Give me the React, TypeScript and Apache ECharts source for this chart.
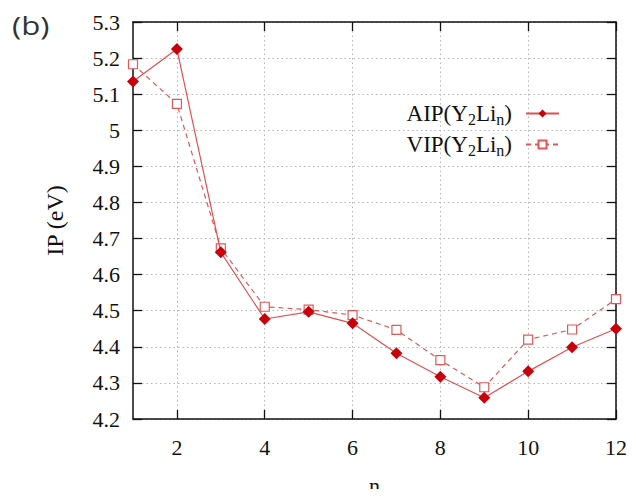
import React, { useEffect, useRef } from "react";
import * as echarts from "echarts";

const nValues = [1, 2, 3, 4, 5, 6, 7, 8, 9, 10, 11, 12];
const aipValues = [5.135, 5.225, 4.662, 4.477, 4.497, 4.465, 4.382, 4.317, 4.259, 4.332, 4.399, 4.45];
const vipValues = [5.183, 5.073, 4.673, 4.511, 4.503, 4.488, 4.447, 4.363, 4.288, 4.42, 4.448, 4.532];
const xTickValues = [2, 4, 6, 8, 10, 12];
const seriesNames = ["AIP", "VIP"];

const SERIF = "'Liberation Serif', 'DejaVu Serif', serif";

export default function App() {
  const ref = useRef<HTMLDivElement>(null);
  useEffect(() => {
    if (!ref.current) return;
    const chart = echarts.init(ref.current, null, { renderer: "svg" });
    const axisLine = { show: true, lineStyle: { color: "#111", width: 1.5 } };
    const tickStyle = { show: true, inside: true, length: 9, lineStyle: { color: "#111", width: 1.3 } };
    const gridLine = { show: true, lineStyle: { color: "#b5b5b5", width: 1, type: [1.5, 3] as any } };
    const yFmt = (v: number) => String(parseFloat(v.toFixed(1)));
    const rich = {
      t: { fontFamily: SERIF, fontSize: 23, color: "#111" },
      s: { fontFamily: SERIF, fontSize: 16, color: "#111", padding: [11, 0, 0, 0] },
    };
    chart.setOption({
      animation: false,
      backgroundColor: "#fff",
      grid: { left: 133, top: 22, right: 20, bottom: 78, containLabel: false, outerBoundsMode: "none" },
      graphic: [
        {
          type: "text",
          left: 12,
          top: 12,
          scaleX: 1.2,
          style: { text: "(b)", fontFamily: "'Open Sans', 'Noto Sans', sans-serif", fontSize: 26, fill: "#333" },
        },
      ],
      legend: {
        orient: "vertical",
        right: 71,
        top: 97,
        align: "right",
        itemWidth: 33,
        itemHeight: 10,
        itemGap: 6,
        data: seriesNames,
        textStyle: { padding: [0, 9, 0, 0], rich },
        formatter: (name: string) => `{t|${name}(Y}{s|2}{t|Li}{s|n}{t|)}`,
      },
      xAxis: [
        {
          type: "value",
          min: 1,
          max: 12,
          name: "n",
          nameLocation: "middle",
          nameGap: 55,
          nameTextStyle: { fontFamily: SERIF, fontSize: 22, color: "#111" },
          axisLine,
          axisTick: { ...tickStyle, customValues: xTickValues },
          axisLabel: { customValues: xTickValues, fontFamily: SERIF, fontSize: 22, color: "#111", margin: 17 },
          splitLine: gridLine,
        },
        {
          type: "value",
          position: "top",
          min: 1,
          max: 12,
          axisLine,
          axisTick: { ...tickStyle, customValues: xTickValues },
          axisLabel: { show: false, customValues: xTickValues },
          splitLine: { show: false },
        },
      ],
      yAxis: [
        {
          type: "value",
          min: 4.2,
          max: 5.3,
          interval: 0.1,
          name: "IP (eV)",
          nameLocation: "middle",
          nameGap: 66,
          nameTextStyle: { fontFamily: SERIF, fontSize: 24, color: "#111" },
          axisLine,
          axisTick: tickStyle,
          axisLabel: { fontFamily: SERIF, fontSize: 22, color: "#111", margin: 13, formatter: yFmt },
          splitLine: gridLine,
        },
        {
          type: "value",
          position: "right",
          min: 4.2,
          max: 5.3,
          interval: 0.1,
          axisLine,
          axisTick: tickStyle,
          axisLabel: { show: false },
          splitLine: { show: false },
        },
      ],
      series: [
        {
          name: seriesNames[0],
          type: "line",
          data: nValues.map((n, i) => [n, aipValues[i]]),
          symbol: "diamond",
          symbolSize: 12,
          itemStyle: { color: "#c8000a" },
          lineStyle: { color: "#e05050", width: 1.2 },
          z: 3,
        },
        {
          name: seriesNames[1],
          type: "line",
          data: nValues.map((n, i) => [n, vipValues[i]]),
          symbol: "rect",
          symbolSize: 9,
          itemStyle: { color: "#fff", borderColor: "#e05858", borderWidth: 1.2 },
          lineStyle: { color: "#e05858", width: 1.2, type: [5, 4] },
          z: 2,
        },
      ],
    });
    return () => chart.dispose();
  }, []);
  return <div ref={ref} style={{ width: 636, height: 497, margin: -8 }} />;
}
